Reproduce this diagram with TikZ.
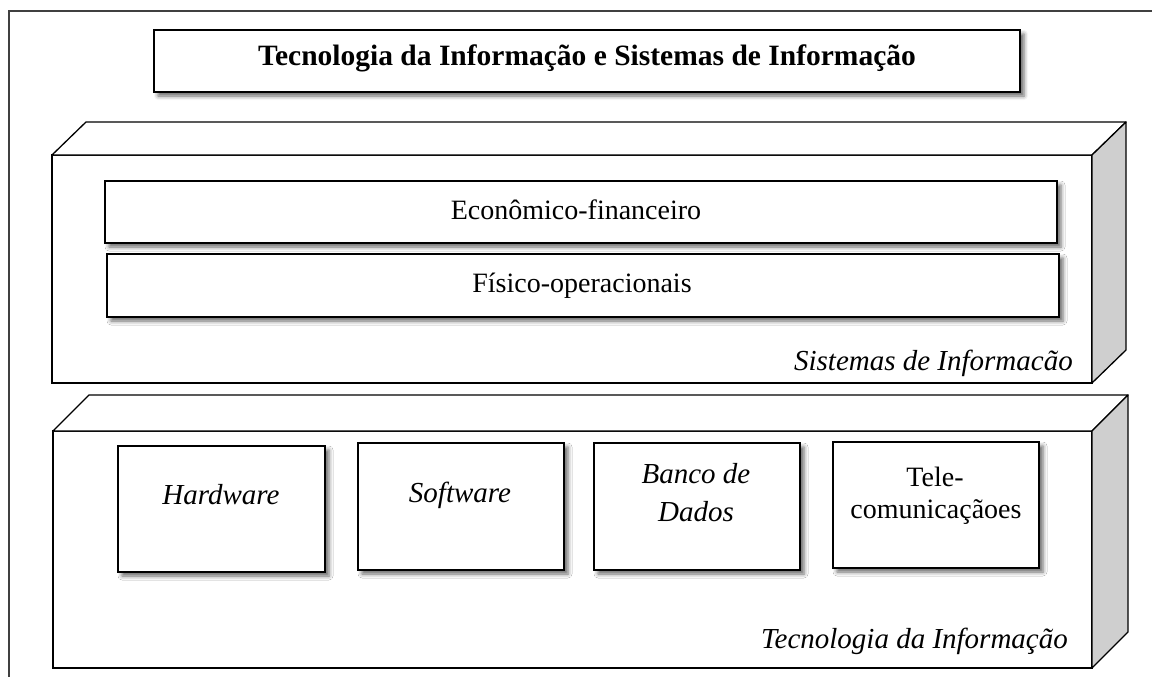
\documentclass[tikz,border=0pt]{standalone}
\usepackage{fontspec}
\setmainfont{Liberation Serif}
\usetikzlibrary{shadows.blur}

\begin{document}
\begin{tikzpicture}[x=1pt, y=-1pt,
    box/.style = {draw, fill=white, line width=1.3pt, inner sep=0pt, outer sep=0pt, blur shadow={shadow xshift=4pt, shadow yshift=-4pt, shadow blur radius=4pt, shadow opacity=60}},
    front/.style = {draw, fill=white, line width=1.3pt, inner sep=0pt, outer sep=0pt},
    face/.style = {draw, fill=white, line width=1.3pt, line join=round},
    side/.style = {draw, fill=black!19, line width=1.3pt, line join=round},
    txt/.style = {inner sep=0pt, anchor=base, font=\fontsize{28}{33}\selectfont},
    itxt/.style = {txt, font=\fontsize{29}{34}\selectfont\itshape}]

            \useasboundingbox (0,0) rectangle (1152,677);
            \draw[line width=1.3pt, black!75] (1152,11) -- (9,11) -- (9,677);

            % Title
            \node[box, minimum width=866pt, minimum height=62pt] (TI) at (587,61) {};
            \node[txt, font=\fontsize{29.5}{34}\selectfont\bfseries] (TIt) at (587,66) {Tecnologia da Informação e Sistemas de Informação};

            % Sistemas de Informacão
            \node[front, minimum width=1040pt, minimum height=228pt] (SI) at (572,269) {};
            \draw[face] (SI.north west) -- ++(34,-33) -- ++(1040,0) -- (SI.north east) -- cycle;
            \draw[side] (SI.north east) -- ++(34,-33) -- ++(0,228) -- (SI.south east) -- cycle;
            \node[itxt, anchor=base east] (SIt) at (1073,370) {Sistemas de Informacão};

            \node[box, minimum width=952pt, minimum height=62pt] (EF) at (581,212) {};
            \node[txt] (EFt) at (576,219) {Econômico-financeiro};
            \node[box, minimum width=952pt, minimum height=63pt] (FO) at (583,285.5) {};
            \node[txt] (FOt) at (582,292) {Físico-operacionais};

            % Tecnologia da Informação
            \node[front, minimum width=1039pt, minimum height=237pt] (TE) at (572.5,549.5) {};
            \draw[face] (TE.north west) -- ++(36,-36) -- ++(1039,0) -- (TE.north east) -- cycle;
            \draw[side] (TE.north east) -- ++(36,-36) -- ++(0,237) -- (TE.south east) -- cycle;
            \node[itxt, anchor=base east] (TEt) at (1068,648) {Tecnologia da Informação};

            \node[box, minimum width=207pt, minimum height=126pt] (HW) at (221.5,509) {};
            \node[box, minimum width=206pt, minimum height=127pt] (SW) at (461,506.5) {};
            \node[box, minimum width=206pt, minimum height=127pt] (BD) at (697,506.5) {};
            \node[box, minimum width=206pt, minimum height=126pt] (TC) at (936,505) {};
            \node[itxt] (HWt) at (221,504) {Hardware};
            \node[itxt] (SWt) at (460,502) {Software};
            \node[itxt] (BD1) at (696,483) {Banco de};
            \node[itxt] (BD2) at (696,521) {Dados};
            \node[txt] (TC1) at (935,486) {Tele-};
            \node[txt] (TC2) at (936,518) {comunicaçãoes};
        \end{tikzpicture}
\end{document}
